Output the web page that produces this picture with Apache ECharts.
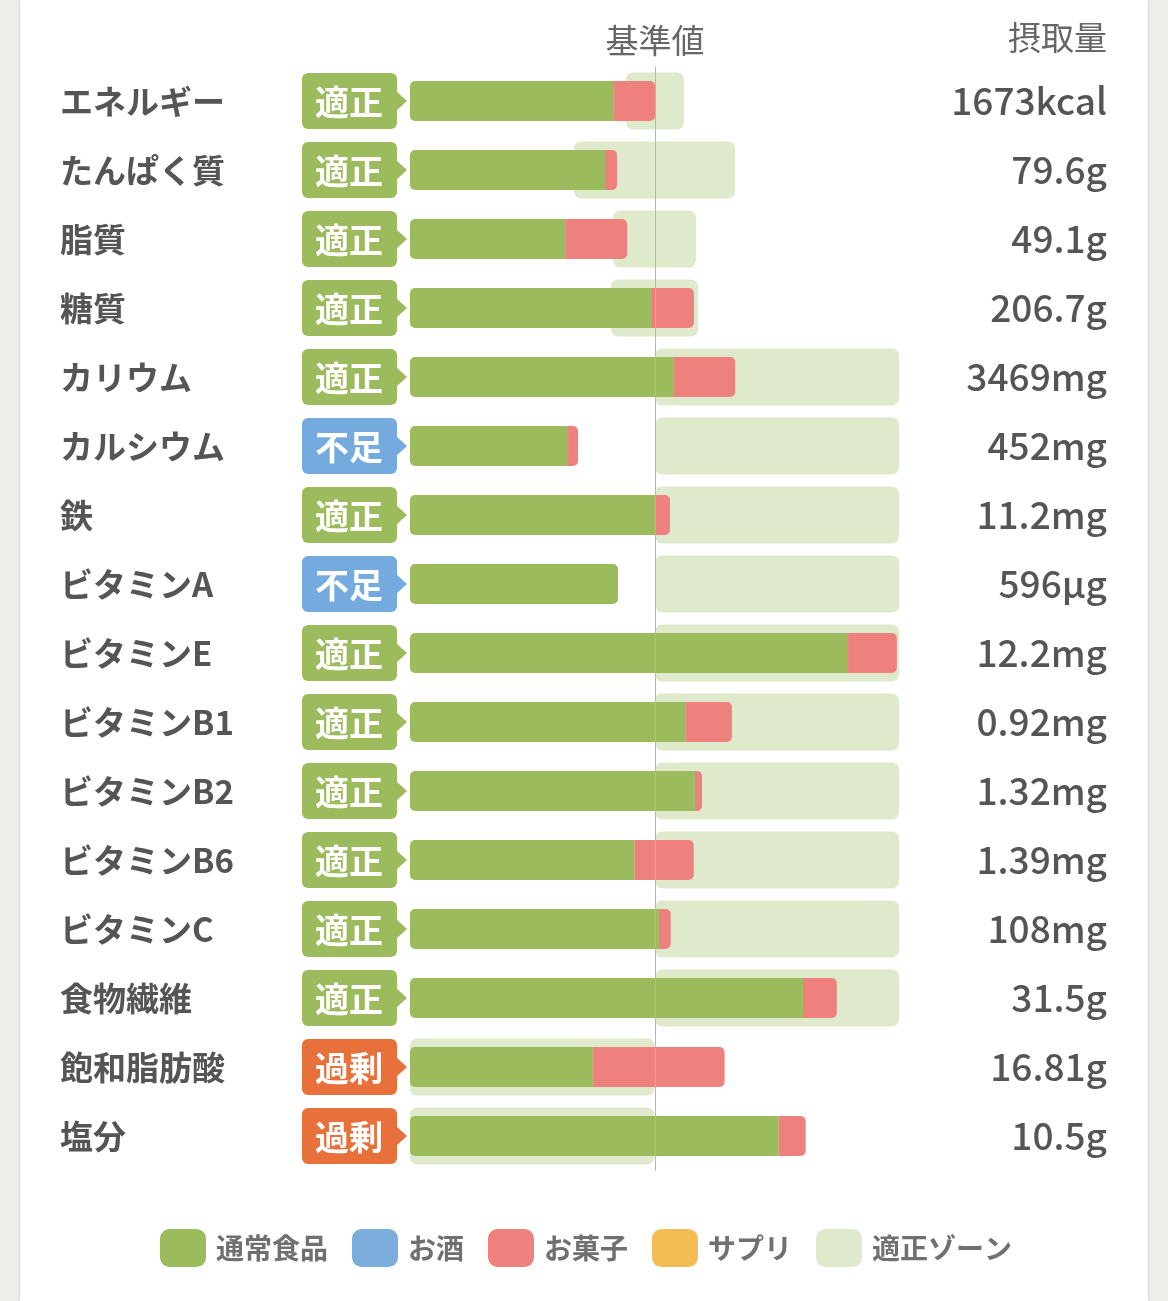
<!DOCTYPE html>
<html>
<head>
<meta charset="utf-8">
<script src="https://cdn.jsdelivr.net/npm/echarts@6/dist/echarts.min.js"></script>
<style>
  html, body { margin: 0; padding: 0; background: #eeeee8; }
  #panel { position: absolute; left: 20px; top: 0; width: 1128px; height: 1301px; background: #fff; box-shadow: 0 0 3px rgba(0,0,0,0.18); }
  #main { position: absolute; left: 0; top: 0; width: 1168px; height: 1301px; }
</style>
</head>
<body>
<div id="panel"></div>
<div id="main"></div>
<script>
// 栄養素ごとの摂取状況（基準値=100）
const nutrients = ['エネルギー', 'たんぱく質', '脂質', '糖質', 'カリウム', 'カルシウム', '鉄', 'ビタミンA',
  'ビタミンE', 'ビタミンB1', 'ビタミンB2', 'ビタミンB6', 'ビタミンC', '食物繊維', '飽和脂肪酸', '塩分'];
const statuses = ['適正', '適正', '適正', '適正', '適正', '不足', '適正', '不足',
  '適正', '適正', '適正', '適正', '適正', '適正', '過剰', '過剰'];
const amounts = ['1673kcal', '79.6g', '49.1g', '206.7g', '3469mg', '452mg', '11.2mg', '596μg',
  '12.2mg', '0.92mg', '1.32mg', '1.39mg', '108mg', '31.5g', '16.81g', '10.5g'];
const normalFood = [83.3, 79.6, 63.7, 98.4, 107.8, 64.5, 100.4, 84.9, 178.8, 112.7, 116.3, 91.7, 101.6, 160.4, 74.6, 150.5];
const alcohol = [];
const sweets = [16.7, 4.9, 24.9, 17.5, 24.9, 4.1, 5.7, 0, 19.9, 18.7, 2.9, 24.1, 4.8, 13.8, 53.8, 11.0];
const supplement = [];
const zoneLow = [88.2, 66.9, 82.9, 82.0, 100, 100, 100, 100, 100, 100, 100, 100, 100, 100, 0, 0];
const zoneHigh = [111.8, 132.7, 116.7, 117.6, 199.6, 199.6, 199.6, 199.6, 199.6, 199.6, 199.6, 199.6, 199.6, 199.6, 99.7, 99.7];

const FONT = '"Noto Sans CJK JP", "Noto Sans", sans-serif';
const badgeColors = { '適正': '#9cbb5c', '不足': '#74aadd', '過剰': '#e8703b' };

const chart = echarts.init(document.getElementById('main'), null, { renderer: 'canvas' });

const option = {
  backgroundColor: 'transparent',
  textStyle: { fontFamily: FONT },
  title: {
    text: '摂取量',
    right: 61,
    top: 21,
    padding: 0,
    textStyle: { fontSize: 33, fontWeight: 'normal', color: '#666', fontFamily: FONT }
  },
  legend: {
    data: ['通常食品', 'お酒', 'お菓子', 'サプリ', '適正ゾーン'],
    left: 160,
    top: 1229,
    padding: 0,
    icon: 'roundRect',
    itemWidth: 46,
    itemHeight: 38,
    itemGap: 24,
    selectedMode: false,
    textStyle: { fontSize: 28, fontWeight: 'bold', color: '#707070', fontFamily: FONT, padding: [0, 0, 0, 5] }
  },
  grid: { left: 410, width: 490, top: 66.5, height: 1104 },
  xAxis: {
    type: 'value',
    position: 'top',
    min: 0,
    max: 200,
    interval: 100,
    axisLine: { show: false },
    axisTick: { show: false },
    splitLine: { show: false },
    axisLabel: {
      margin: 10,
      fontSize: 33,
      color: '#666',
      fontFamily: FONT,
      formatter: v => (v === 100 ? '基準値' : '')
    }
  },
  yAxis: [
    {
      type: 'category',
      inverse: true,
      data: nutrients,
      axisLine: { show: false },
      axisTick: { show: false },
      axisLabel: {
        align: 'left',
        margin: 350,
        fontSize: 33,
        fontWeight: 'bold',
        color: '#555',
        fontFamily: FONT
      }
    },
    {
      type: 'category',
      inverse: true,
      position: 'right',
      data: nutrients,
      axisLine: { show: false },
      axisTick: { show: false },
      axisLabel: {
        align: 'right',
        margin: 207,
        fontSize: 37,
        fontWeight: 500,
        color: '#555',
        fontFamily: FONT,
        formatter: (v, i) => amounts[i]
      }
    }
  ],
  series: [
    {
      name: '適正ゾーン',
      type: 'custom',
      z: 1,
      silent: true,
      itemStyle: { color: '#dfe9cc' },
      encode: { x: [0, 1], y: 2 },
      data: zoneLow.map((lo, i) => [lo, zoneHigh[i], i]),
      renderItem: function (params, api) {
        const a = api.coord([api.value(0), api.value(2)]);
        const b = api.coord([api.value(1), api.value(2)]);
        return {
          type: 'rect',
          shape: { x: a[0], y: a[1] - 28.5, width: b[0] - a[0], height: 57, r: 7 },
          style: { fill: '#dfe9cc' }
        };
      }
    },
    {
      name: '通常食品',
      type: 'bar',
      stack: 'intake',
      z: 2,
      barWidth: 40,
      silent: true,
      itemStyle: { color: '#9cbb5c', borderRadius: [5, 0, 0, 5] },
      data: normalFood.map((v, i) => (sweets[i] > 0 ? v : { value: v, itemStyle: { borderRadius: 5 } }))
    },
    {
      name: 'お酒',
      type: 'bar',
      stack: 'intake',
      z: 2,
      barWidth: 40,
      itemStyle: { color: '#7aaddc' },
      data: alcohol
    },
    {
      name: 'お菓子',
      type: 'bar',
      stack: 'intake',
      z: 3,
      barWidth: 40,
      silent: true,
      itemStyle: { color: '#ee807e', borderRadius: [0, 5, 5, 0] },
      data: sweets,
      markLine: {
        silent: true,
        symbol: 'none',
        label: { show: false },
        lineStyle: { color: '#b5b5b5', width: 1, type: 'solid' },
        data: [{ xAxis: 100 }]
      }
    },
    {
      name: 'サプリ',
      type: 'bar',
      stack: 'intake',
      z: 2,
      barWidth: 40,
      itemStyle: { color: '#f3bd56' },
      data: supplement
    },
    {
      name: 'badge',
      type: 'custom',
      z: 4,
      silent: true,
      encode: { x: 0, y: 1 },
      data: statuses.map((s, i) => [0, i]),
      renderItem: function (params, api) {
        const p = api.coord([0, api.value(1)]);
        const st = statuses[params.dataIndex];
        const c = badgeColors[st];
        return {
          type: 'group',
          children: [
            { type: 'rect', shape: { x: p[0] - 108, y: p[1] - 28, width: 95, height: 56, r: 6 }, style: { fill: c } },
            { type: 'polygon', shape: { points: [[p[0] - 14, p[1] - 10], [p[0] - 3, p[1]], [p[0] - 14, p[1] + 10]] }, style: { fill: c } },
            {
              type: 'text',
              style: {
                x: p[0] - 61, y: p[1] + 1, text: st, fill: '#fff',
                font: 'bold 34px ' + FONT, align: 'center', verticalAlign: 'middle'
              }
            }
          ]
        };
      }
    }
  ]
};

chart.setOption(option);
</script>
</body>
</html>
